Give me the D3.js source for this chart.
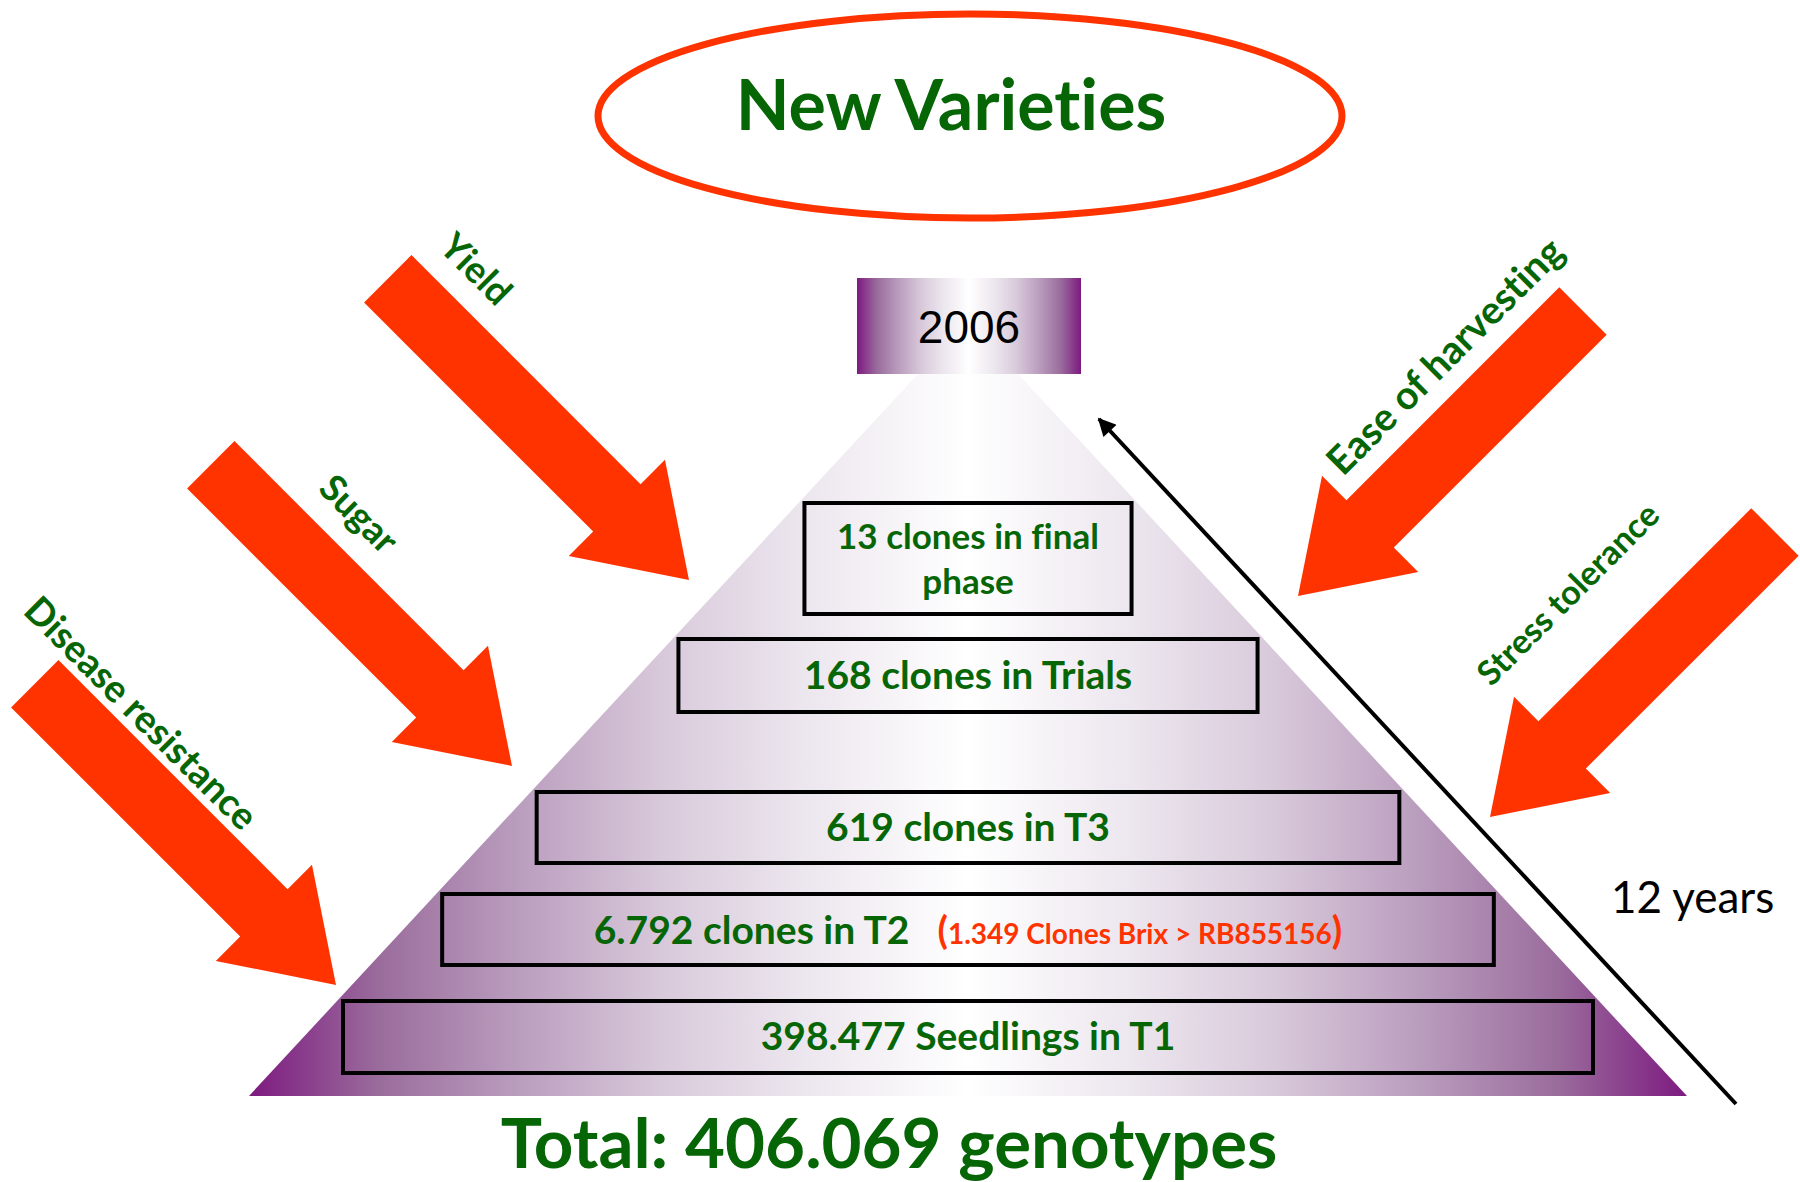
<!DOCTYPE html>
<html>
<head>
<meta charset="utf-8">
<script src="https://cdn.jsdelivr.net/npm/d3@7"></script>
<style>
  html, body { margin: 0; padding: 0; background: #ffffff; }
  svg { display: block; }
  text { font-variant-ligatures: none; }
</style>
</head>
<body>
<div id="chart"></div>
<script>
'use strict';

// ---- data ----
const titleText = "New Varieties";
const yearLabel = "2006";
const durationLabel = "12 years";
const totalLabel = "Total: 406.069 genotypes";

// selection stages, top of the pyramid first
const stageCounts = ["13", "168", "619", "6.792", "398.477"];
const stageNames = ["clones in final phase", "clones in Trials", "clones in T3", "clones in T2", "Seedlings in T1"];
const stageNotes = ["", "", "", "1.349 Clones Brix > RB855156", ""];

// selection criteria pushing on the pyramid
const leftCriteria = ["Yield", "Sugar", "Disease resistance"];
const rightCriteria = ["Ease of harvesting", "Stress tolerance"];

// ---- layout ----
const W = 1800, H = 1182;
const green = "#066606", red = "#ff3300";
const fontBold = "Lato, 'Open Sans', sans-serif";

// purple -> white ramp (edge to centre), mirrored
const rampOffsets = [0, 0.09, 0.19, 0.29, 0.385, 0.5];
const rampColors = ["#7d1a80", "#9a6c9c", "#bb9fbf", "#d9cadb", "#ece6ee", "#ffffff"];

const centerX = 968;
const apexY = 320, baseY = 1096, baseHalf = 719;
const rowTop = [503, 639, 792, 894, 1001];
const rowHeight = [111, 73, 71, 71, 72];
const rowFont = [35, 39, 39, 39, 39];

const arrowShaft = 67, arrowHead = 136, arrowHeadLen = 102;
const leftTips = [[689, 580], [512, 766], [336, 985]];
const leftLen = 426;
const rightTips = [[1298, 596], [1490, 817]];
const rightLen = 403;
const leftLabelPos = [[476, 269], [359, 514], [141, 713]];
const leftLabelSize = [37, 37, 38];
const rightLabelPos = [[1445, 356], [1568, 594]];
const rightLabelSize = [39, 34];

const svg = d3.select("#chart").append("svg")
    .attr("width", W)
    .attr("height", H);

const defs = svg.append("defs");

// purple - white - purple horizontal gradient
function addGradient(id, units, x1, x2) {
    const g = defs.append("linearGradient")
        .attr("id", id)
        .attr("gradientUnits", units)
        .attr("x1", x1).attr("x2", x2)
        .attr("y1", 0).attr("y2", 0);
    rampOffsets.forEach((o, i) => {
        g.append("stop").attr("offset", o).attr("stop-color", rampColors[i]);
    });
    rampOffsets.slice(0, -1).reverse().forEach((o, k) => {
        const i = rampOffsets.length - 2 - k;
        g.append("stop").attr("offset", 1 - o).attr("stop-color", rampColors[i]);
    });
}
addGradient("boxGrad", "objectBoundingBox", 0, 1);
addGradient("pyrGrad", "userSpaceOnUse", centerX - baseHalf, centerX + baseHalf);

defs.append("marker")
    .attr("id", "head")
    .attr("viewBox", "0 0 10 10")
    .attr("refX", 9).attr("refY", 5)
    .attr("markerWidth", 5).attr("markerHeight", 4.5)
    .attr("markerUnits", "strokeWidth")
    .attr("orient", "auto")
    .append("path")
    .attr("d", "M0,0 L10,5 L0,10 Z")
    .attr("fill", "#000");

// half width of the pyramid at a given y
const halfWidth = d3.scaleLinear().domain([apexY, baseY]).range([0, baseHalf]);

const line = d3.line();

// pyramid
svg.append("path")
    .attr("d", line([[centerX, apexY], [centerX + baseHalf, baseY], [centerX - baseHalf, baseY]]) + "Z")
    .attr("fill", "url(#pyrGrad)");

// stage boxes
const stages = stageCounts.map((c, i) => ({
    label: c + " " + stageNames[i],
    note: stageNotes[i],
    top: rowTop[i],
    h: rowHeight[i],
    fs: rowFont[i],
    half: halfWidth(rowTop[i]) - 6
}));

const rows = svg.append("g").selectAll("g")
    .data(stages)
    .join("g");

rows.append("rect")
    .attr("x", d => centerX - d.half)
    .attr("y", d => d.top)
    .attr("width", d => 2 * d.half)
    .attr("height", d => d.h)
    .attr("fill", "none")
    .attr("stroke", "#000")
    .attr("stroke-width", 4);

rows.each(function (d) {
    const g = d3.select(this);
    const text = g.append("text")
        .attr("x", centerX)
        .attr("text-anchor", "middle")
        .style("font-family", fontBold)
        .style("font-weight", 700)
        .style("font-size", d.fs + "px")
        .attr("fill", green);

    if (d.note) {
        text.attr("y", d.top + d.h / 2 + 14);
        text.append("tspan").text(d.label);
        text.append("tspan").attr("dx", 28).attr("fill", red).style("font-size", "38px").text("(");
        text.append("tspan").attr("fill", red).style("font-size", "28px").text(d.note);
        text.append("tspan").attr("fill", red).style("font-size", "38px").text(")");
        return;
    }

    // simple word wrap inside the box
    const words = d.label.split(" ");
    const lines = [];
    let cur = [];
    const probe = text.append("tspan");
    words.forEach(w => {
        probe.text(cur.concat(w).join(" "));
        if (probe.node().getComputedTextLength() > 2 * d.half - 40 && cur.length) {
            lines.push(cur.join(" "));
            cur = [w];
        } else {
            cur.push(w);
        }
    });
    lines.push(cur.join(" "));
    probe.remove();

    const lh = 45;
    const first = d.top + d.h / 2 + 13 - (lines.length - 1) * lh / 2;
    lines.forEach((l, k) => {
        text.append("tspan")
            .attr("x", centerX)
            .attr("y", first + k * lh)
            .text(l);
    });
});

// year box on the top of the pyramid
svg.append("rect")
    .attr("x", 857).attr("y", 278)
    .attr("width", 224).attr("height", 96)
    .attr("fill", "url(#boxGrad)");

svg.append("text")
    .attr("x", 969).attr("y", 343)
    .attr("text-anchor", "middle")
    .style("font-family", "'Liberation Sans', Arial, sans-serif")
    .style("font-size", "46px")
    .attr("fill", "#000")
    .text(yearLabel);

// block arrow ending at tip, coming from direction dir
function arrowPoints(tip, dir, len) {
    const ux = dir[0], uy = dir[1];
    const nx = -uy, ny = ux;
    const tail = [tip[0] - ux * len, tip[1] - uy * len];
    const neck = [tip[0] - ux * arrowHeadLen, tip[1] - uy * arrowHeadLen];
    const s = arrowShaft / 2, hw = arrowHead / 2;
    return [
        [tail[0] + nx * s, tail[1] + ny * s],
        [neck[0] + nx * s, neck[1] + ny * s],
        [neck[0] + nx * hw, neck[1] + ny * hw],
        tip,
        [neck[0] - nx * hw, neck[1] - ny * hw],
        [neck[0] - nx * s, neck[1] - ny * s],
        [tail[0] - nx * s, tail[1] - ny * s]
    ];
}

const r2 = Math.SQRT1_2;
const arrows = leftTips.map(t => arrowPoints(t, [r2, r2], leftLen))
    .concat(rightTips.map(t => arrowPoints(t, [-r2, r2], rightLen)));

svg.append("g").selectAll("path")
    .data(arrows)
    .join("path")
    .attr("d", d => line(d) + "Z")
    .attr("fill", red);

// criteria labels
const labels = leftCriteria.map((t, i) => ({t: t, p: leftLabelPos[i], a: 45, s: leftLabelSize[i]}))
    .concat(rightCriteria.map((t, i) => ({t: t, p: rightLabelPos[i], a: -45, s: rightLabelSize[i]})));

svg.append("g").selectAll("text")
    .data(labels)
    .join("text")
    .attr("transform", d => `translate(${d.p[0]},${d.p[1]}) rotate(${d.a})`)
    .attr("text-anchor", "middle")
    .attr("dy", "0.35em")
    .style("font-family", fontBold)
    .style("font-weight", 700)
    .style("font-size", d => d.s + "px")
    .attr("fill", green)
    .text(d => d.t);

// time arrow along the right side
svg.append("line")
    .attr("x1", 1736).attr("y1", 1104)
    .attr("x2", 1099).attr("y2", 419)
    .attr("stroke", "#000")
    .attr("stroke-width", 4)
    .attr("marker-end", "url(#head)");

svg.append("text")
    .attr("x", 1611).attr("y", 913)
    .style("font-family", "Lato, sans-serif")
    .style("font-size", "44px")
    .attr("fill", "#000")
    .text(durationLabel);

// title in the ellipse
svg.append("ellipse")
    .attr("cx", 970).attr("cy", 116)
    .attr("rx", 372).attr("ry", 102)
    .attr("fill", "none")
    .attr("stroke", red)
    .attr("stroke-width", 7);

svg.append("text")
    .attr("x", 951).attr("y", 130)
    .attr("text-anchor", "middle")
    .style("font-family", fontBold)
    .style("font-weight", 700)
    .style("font-size", "70px")
    .attr("fill", green)
    .text(titleText);

// total
svg.append("text")
    .attr("x", 889).attr("y", 1168)
    .attr("text-anchor", "middle")
    .style("font-family", fontBold)
    .style("font-weight", 700)
    .style("font-size", "69px")
    .attr("fill", green)
    .text(totalLabel);
</script>
</body>
</html>
